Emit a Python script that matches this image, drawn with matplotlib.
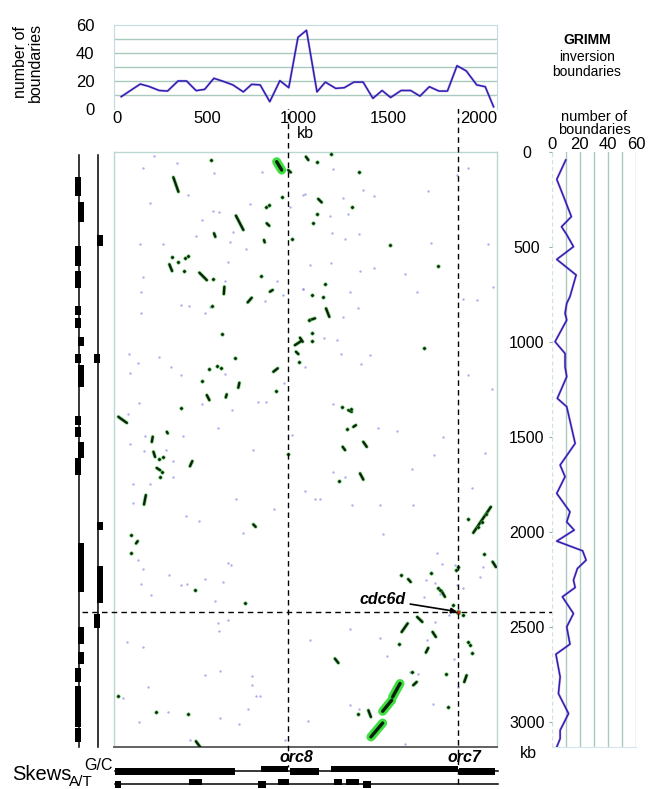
import matplotlib
matplotlib.use('Agg')
import matplotlib.pyplot as plt
import matplotlib.transforms as mtransforms

plt.rcParams['font.family'] = ['Liberation Sans', 'DejaVu Sans']

# ---------------- data ----------------
# top profile: GRIMM inversion boundaries along genome X (kb)
top_kb = [23, 128, 174, 233, 279, 337, 384, 437, 484, 535, 581, 640, 698, 744, 791, 844, 900, 949,
          1000, 1047, 1105, 1151, 1209, 1256, 1309, 1360, 1414, 1465, 1512, 1570, 1623, 1674, 1726,
          1779, 1826, 1879, 1930, 1988, 2035, 2081]
top_count = [8.6, 17.6, 16, 13, 12.6, 19.8, 19.8, 12.9, 13.8, 21.7, 19.8, 17, 12, 17.4, 17, 5, 20, 15,
             51, 56, 12, 19, 14.5, 15, 19, 19, 7.4, 13, 8, 13, 13, 9, 15.7, 12.6, 12.6, 30.7, 27, 17, 15.7, 1.4]

# right profile: boundaries along genome Y (kb)
right_kb = [42, 144, 235, 340, 393, 435, 498, 565, 647, 761, 796, 849, 884, 998, 1060, 1130, 1182, 1296,
            1340, 1533, 1647, 1708, 1796, 1893, 1946, 1989, 2047, 2098, 2147, 2191, 2252, 2291, 2340,
            2428, 2498, 2589, 2642, 2761, 2849, 2954, 3042, 3086, 3130]
right_count = [10, 3.6, 8.5, 14, 7, 10.7, 15.5, 3.6, 17.4, 13, 10.7, 9.5, 10.7, 2.4, 9.5, 9.5, 10.7, 4,
               10.7, 16.7, 6, 9.5, 3.6, 13, 10.7, 16, 3.6, 22, 24.5, 18.3, 15.5, 16.7, 7.6,
               15.5, 10.7, 13, 3, 6, 4.8, 12, 6, 6, 3.6]

# dot plot: conserved segments (x kb, y kb)
seg_x0 = [946, 1044, 311, 657, 827, 536, 812, 289, 455, 593, 845, 722, 1011, 1112, 1155, 1066, 983, 989,
          864, 676, 496, 606, 7, 275, 197, 201, 403, 219, 159, 753, 1278, 1306, 1361, 1247, 1343, 1969,
          105, 436, 2076, 1609, 1794, 1659, 1606, 1744, 1720, 1204, 1656, 1932, 1389]
seg_y0 = [95, 25, 133, 335, 375, 428, 463, 591, 635, 709, 735, 791, 977, 247, 823, 884, 1016, 1051,
          1156, 1214, 1279, 1275, 1393, 1472, 1498, 1577, 1653, 1662, 1805, 1959, 1358, 1446, 1525, 1551, 1691, 2003,
          2059, 3100, 2156, 2247, 2310, 2446, 2480, 2525, 2609, 2665, 2788, 2753, 2937]
seg_x1 = [960, 1057, 339, 698, 841, 543, 816, 304, 496, 590, 860, 744, 1026, 1131, 1173, 1094, 1017, 1002,
          888, 670, 510, 601, 54, 280, 192, 210, 416, 238, 149, 766, 1297, 1320, 1380, 1260, 1361, 2066,
          114, 459, 2094, 1623, 1812, 1687, 1573, 1762, 1707, 1223, 1637, 1919, 1403]
seg_y1 = [107, 42, 209, 410, 388, 446, 475, 626, 674, 747, 726, 767, 998, 265, 867, 875, 995, 1063,
          1138, 1240, 1305, 1291, 1425, 1480, 1525, 1604, 1626, 1674, 1854, 1972, 1367, 1437, 1551, 1568, 1723, 1867,
          2047, 3130, 2183, 2262, 2340, 2472, 2525, 2551, 2633, 2688, 2805, 2788, 2972]

# strongly highlighted segments
big_x0 = [882, 1564, 1518, 1468]
big_y0 = [51, 2796, 2884, 3004]
big_x1 = [910, 1523, 1468, 1403]
big_y1 = [95, 2867, 2942, 3077]

# short matches (dots)
dot_x = [519, 910, 823, 840, 965, 306, 339, 376, 394, 372, 529, 794, 527, 582, 1062, 1182, 1103, 1337, 1300,
         1103, 1081, 1508, 1775, 1149, 1076, 1140, 1079, 1076, 1006, 652, 551, 575, 510, 468, 877, 354, 234,
         256, 247, 238, 943, 76, 1696, 1241, 1291, 1269, 1228, 1941, 77, 431, 707, 4, 214, 391, 2028, 1873,
         1886, 1567, 1735, 1772, 1785, 1855, 1913, 1560, 1938, 1950, 1960, 1632, 1816, 1333, 1830, 1995,
         2015, 2040]
dot_y = [42, 235, 289, 279, 458, 554, 577, 559, 547, 626, 670, 651, 811, 958, 884, 8, 51, 107, 288,
         326, 372, 489, 600, 695, 753, 762, 954, 995, 1104, 1083, 1125, 1135, 1142, 1205, 1258, 1349, 1616,
         1607, 1683, 1712, 1591, 2016, 1033, 1340, 1353, 1459, 1730, 1928, 2107, 2305, 2370, 2863, 2946, 2954, 2116, 2200,
         2183, 2226, 2217, 2296, 2305, 2381, 2437, 2589, 2577, 2595, 2635, 2735, 2744, 2958, 2919, 1975,
         1945, 1905]

# faint background matches
faint_x = [204, 330, 145, 536, 799, 394, 182, 532, 564, 735, 956, 1029, 468, 643, 436, 127, 252, 624, 713, 145,
           615, 597, 133, 1026, 919, 354, 400, 514, 133, 486, 818, 882, 1195, 1357, 1422, 1720, 1037, 1247, 1278,
           1177, 1188, 1260, 1337, 1877, 1941, 2051, 1735, 1066, 1182, 1422, 1343, 1591, 1029, 1287, 1656, 1333,
           2076, 1913, 1987, 1250, 1145, 1214, 66, 234, 118, 297, 352, 597, 72, 924, 781, 823, 122, 468, 634, 62,
           556, 363, 72, 155, 149, 269, 308, 965, 753, 311, 182, 90, 657, 87, 867, 381, 455, 1039, 695, 1236, 1398,
           1348, 1039, 1195, 1444, 1545, 1799, 1753, 1628, 1195, 1260, 1122, 1094, 1297, 1453, 1637, 2070, 2033,
           1960, 1941, 1471, 118, 142, 133, 186, 289, 354, 385, 486, 587, 615, 630, 541, 615, 556, 565, 57, 145,
           486, 569, 744, 744, 766, 790, 722, 170, 35, 280, 123, 569, 674, 928, 1057, 403, 1766, 1794, 1867, 2020,
           2006, 1707, 1757, 1698, 1877, 1910, 1785, 1757, 1836, 1453, 1711, 1490, 1287, 1066, 1864, 1882, 1619,
           1665, 1886, 1748, 1287, 1339, 1591]
faint_y = [19, 56, 86, 112, 104, 226, 270, 311, 314, 275, 288, 226, 358, 419, 440, 483, 486, 472, 510, 656,
           581, 679, 735, 721, 753, 805, 809, 814, 846, 846, 784, 679, 91, 200, 230, 205, 223, 244, 328,
           337, 425, 458, 433, 121, 83, 486, 481, 595, 586, 612, 626, 644, 721, 735, 738, 819,
           709, 774, 779, 867, 977, 989, 1063, 1077, 1109, 1130, 1174, 1170, 1165, 1217, 1314, 1317, 1323, 1328, 1358, 1379,
           1454, 1493, 1538, 1493, 1574, 1568, 1625, 1489, 1565, 1709, 1747, 1747, 1828, 1849, 1880, 1916, 1942, 1784, 2004, 1065, 1068,
           1117, 1130, 1328, 1451, 1467, 1498, 1595, 1670, 1683, 1709, 1823, 1828, 1858, 1858, 1858, 1249, 1586,
           1770, 1174, 2007, 2147, 2196, 2274, 2332, 2226, 2279, 2275, 2247, 2261, 2161, 2174, 2363, 2463, 2480, 2519, 2577, 2604,
           2749, 2731, 2758, 2805, 2863, 2862, 2928, 2814, 2870, 2946, 2998, 2980, 3007, 3091, 2995, 3091, 2112, 2165, 2174, 2183,
           2238, 2253, 2267, 2340, 2279, 2296, 2323, 2472, 2437, 2556, 2568, 2653, 2507, 2568, 2665, 2551, 2735,
           2744, 2814, 2902, 2910, 2928, 3112]

cdc6d_kb = (1886, 2419)
orc_kb = [945, 1884]
orc_names = ['orc8', 'orc7']
hline_kb = 2420

# left skew tracks for genome Y (start kb, end kb, side -1 left / +1 right)
gc_y_start = [130, 262, 495, 625, 809, 874, 974, 1063, 1121, 1389, 1447, 1525, 1610, 2058, 2498, 2630, 2716, 2810, 3031]
gc_y_end = [232, 367, 600, 717, 858, 926, 1021, 1111, 1235, 1437, 1498, 1610, 1700, 2316, 2589, 2695, 2788, 3025, 3103]
gc_y_side = [-1, 1, -1, -1, -1, -1, 1, -1, 1, -1, -1, 1, -1, 1, 1, 1, -1, -1, -1]
at_y_start = [437, 1063, 1946, 2179, 2431]
at_y_end = [495, 1109, 1989, 2374, 2505]
at_y_side = [1, -1, 1, 1, -1]

# bottom skew tracks for genome X
gc_x_start = [-11, 796, 956, 1182, 1890]
gc_x_end = [652, 945, 1116, 1884, 2088]
gc_x_side = [1, -1, 1, -1, 1]
at_x_start = [-11, 398, 777, 887, 1197, 1264, 1357]
at_x_end = [22, 472, 823, 953, 1243, 1337, 1403]
at_x_side = [1, -1, 1, -1, -1, -1, 1]

# ---------------- layout ----------------
W, H = 667, 789
fig = plt.figure(figsize=(W / 100, H / 100), dpi=100)


def rect(x0, y0, x1, y1):
    return [x0 / W, 1 - y1 / H, (x1 - x0) / W, (y1 - y0) / H]


XLIM = (-17, 2100)
YLIM = (3130, 0)
GRID = '#a9cbbd'
FRAME = '#c4dbe3'
LINE_BLUE = '#2424b4'
LINE_MAG = '#c050c8'

# --- dot plot ---
ax = fig.add_axes(rect(114, 152, 497, 747))
ax.set_xlim(*XLIM)
ax.set_ylim(*YLIM)
ax.scatter(faint_x, faint_y, s=3.0, color='#8b8be8', alpha=0.7, linewidths=0, zorder=1)
for x0, y0, x1, y1 in zip(big_x0, big_y0, big_x1, big_y1):
    ax.plot([x0, x1], [y0, y1], color='#3ee03f', lw=6.5, solid_capstyle='round', zorder=2)
    ax.plot([x0, x1], [y0, y1], color='#0a200a', lw=2.4, solid_capstyle='round', zorder=3)
for x0, y0, x1, y1 in zip(seg_x0, seg_y0, seg_x1, seg_y1):
    ax.plot([x0, x1], [y0, y1], color='#45c845', lw=2.8, solid_capstyle='round', alpha=0.6, zorder=2)
    ax.plot([x0, x1], [y0, y1], color='#0b230b', lw=1.7, solid_capstyle='round', zorder=3)
ax.scatter(dot_x, dot_y, s=6, color='#0b230b', edgecolors='#45c845', linewidths=0.4, zorder=3)
ax.scatter([cdc6d_kb[0]], [cdc6d_kb[1]], s=12, color='#d02020', edgecolors='#45c845', linewidths=0.5, zorder=4)
ax.set_xticks([])
ax.yaxis.tick_right()
ax.set_yticks([0, 500, 1000, 1500, 2000, 2500, 3000])
ax.tick_params(axis='y', length=0, pad=21.5, labelsize=11.5)
for lbl in ax.get_yticklabels():
    lbl.set_horizontalalignment('center')
for s in ['left', 'top', 'right']:
    ax.spines[s].set_color('#bcd6d2')
    ax.spines[s].set_linewidth(1.0)
ax.spines['bottom'].set_color('#555555')
ax.spines['bottom'].set_linewidth(1.3)

ax.annotate('cdc6d', xy=cdc6d_kb, xytext=(1470, 2355), textcoords='data',
            ha='center', va='center', fontsize=11.5, fontstyle='italic', fontweight='bold',
            arrowprops=dict(arrowstyle='-|>', color='black', lw=1.2, mutation_scale=8,
                            shrinkA=1, shrinkB=1), zorder=6)

# dashed guide lines
trans_v = mtransforms.blended_transform_factory(ax.transData, fig.transFigure)
ax.plot([orc_kb[0]] * 2, [1 - 55 / H, 1 - 767 / H], transform=trans_v, color='black', lw=1.0,
        ls=(0, (4, 3)), clip_on=False, zorder=5)
ax.plot([orc_kb[1]] * 2, [1 - 59 / H, 1 - 787 / H], transform=trans_v, color='black', lw=1.0,
        ls=(0, (4, 3)), clip_on=False, zorder=5)
trans_h = mtransforms.blended_transform_factory(fig.transFigure, ax.transData)
ax.plot([82 / W, 573 / W], [hline_kb] * 2, transform=trans_h, color='black', lw=1.0,
        ls=(0, (4, 3)), clip_on=False, zorder=5)

for kb, name, dx in zip(orc_kb, orc_names, [8, 6]):
    ax.text(kb + dx / 0.181, 1 - 757 / H, name, transform=trans_v, ha='center', va='center',
            fontsize=11.5, fontstyle='italic', fontweight='bold')

fig.text(528 / W, 1 - 753 / H, 'kb', ha='center', va='center', fontsize=11.5)

# --- top profile ---
axt = fig.add_axes(rect(114, 24.7, 497, 108.7))
axt.set_xlim(*XLIM)
axt.set_ylim(0, 60)
for g in [10, 20, 30, 40, 50]:
    axt.axhline(g, color=GRID, lw=1.0, zorder=1)
axt.plot(top_kb, top_count, color=LINE_MAG, lw=1.8, alpha=0.45, zorder=2)
axt.plot(top_kb, top_count, color=LINE_BLUE, lw=1.1, zorder=3)
axt.set_xticks([0, 500, 1000, 1500, 2000])
axt.set_yticks([0, 20, 40, 60])
axt.tick_params(axis='both', length=0, labelsize=12)
axt.tick_params(axis='x', pad=2)
axt.tick_params(axis='y', pad=14)
for s in ['left', 'top', 'right']:
    axt.spines[s].set_color(FRAME)
axt.spines['bottom'].set_visible(False)
axt.set_xlabel('kb', fontsize=11.5, labelpad=0)
fig.text(28 / W, 1 - 62 / H, 'number of\nboundaries', rotation=90, ha='center', va='center',
         fontsize=11.5, linespacing=1.0)
fig.text(587 / W, 1 - 40 / H, 'GRIMM', ha='center', va='center', fontsize=10, fontweight='bold',
         fontstretch='condensed')
fig.text(587 / W, 1 - 57 / H, 'inversion', ha='center', va='center', fontsize=10)
fig.text(587 / W, 1 - 72 / H, 'boundaries', ha='center', va='center', fontsize=10)

# --- right profile ---
axr = fig.add_axes(rect(551.7, 152, 636, 747))
axr.set_xlim(0, 60)
axr.set_ylim(*YLIM)
for g in [10, 20, 30, 40, 50, 60]:
    axr.axvline(g, color=GRID, lw=1.0, zorder=1)
axr.axvline(0, color='#cfe3df', lw=1.0, ls=(0, (3, 2)), zorder=1)
axr.plot(right_count, right_kb, color=LINE_MAG, lw=1.8, alpha=0.45, zorder=2)
axr.plot(right_count, right_kb, color=LINE_BLUE, lw=1.1, zorder=3)
axr.xaxis.tick_top()
axr.set_xticks([0, 20, 40, 60])
axr.set_yticks([0, 500, 1000, 1500, 2000, 2500, 3000])
axr.set_yticklabels([])
axr.tick_params(axis='x', length=0, pad=0, labelsize=12)
axr.tick_params(axis='y', length=2, width=0.8, color='#9aa')
for s in ['left', 'top', 'right']:
    axr.spines[s].set_visible(False)
axr.spines['bottom'].set_color('#d6e6ee')
fig.text(594 / W, 1 - 117 / H, 'number of', ha='center', va='center', fontsize=10.5)
fig.text(594 / W, 1 - 130 / H, 'boundaries', ha='center', va='center', fontsize=10.5)

# --- left skew tracks ---
axl = fig.add_axes(rect(60, 152, 112, 747))
axl.set_xlim(60, 112)
axl.set_ylim(*YLIM)
axl.axis('off')
track_x = [79.3, 98.3]
for tx in track_x:
    axl.plot([tx, tx], [16, 3130], color='black', lw=1.1, clip_on=False)
bw = 6.0
for tx, st, en, sd in [(track_x[0], gc_y_start, gc_y_end, gc_y_side),
                       (track_x[1], at_y_start, at_y_end, at_y_side)]:
    lefts = [tx - 4.4 if s < 0 else tx - 1.6 for s in sd]
    axl.barh([(a + b) / 2 for a, b in zip(st, en)], [bw] * len(st),
             height=[b - a for a, b in zip(st, en)], left=lefts, color='black')

# --- bottom skew tracks ---
axb = fig.add_axes(rect(114, 758, 497, 789))
axb.set_xlim(*XLIM)
axb.set_ylim(789, 758)
axb.axis('off')
gc_line, at_line = 770.5, 783.5
axb.plot([-11, 2105], [gc_line, gc_line], color='black', lw=1.1, clip_on=False)
axb.plot([-11, 2105], [at_line, at_line], color='black', lw=1.1, clip_on=False)
bh = 6.5
for ly, st, en, sd in [(gc_line, gc_x_start, gc_x_end, gc_x_side),
                       (at_line, at_x_start, at_x_end, at_x_side)]:
    bottoms = [ly - 5.0 if s < 0 else ly - 2.3 for s in sd]
    axb.bar(st, [bh] * len(st), width=[b - a for a, b in zip(st, en)], bottom=bottoms,
            align='edge', color='black')

fig.text(42 / W, 1 - 775 / H, 'Skews', ha='center', va='center', fontsize=14.5)
fig.text(113 / W, 1 - 766 / H, 'G/C', ha='right', va='center', fontsize=11.5)
fig.text(81 / W, 1 - 782 / H, 'A/T', ha='center', va='center', fontsize=11)

fig.savefig('out.png', dpi=100, facecolor='white')
